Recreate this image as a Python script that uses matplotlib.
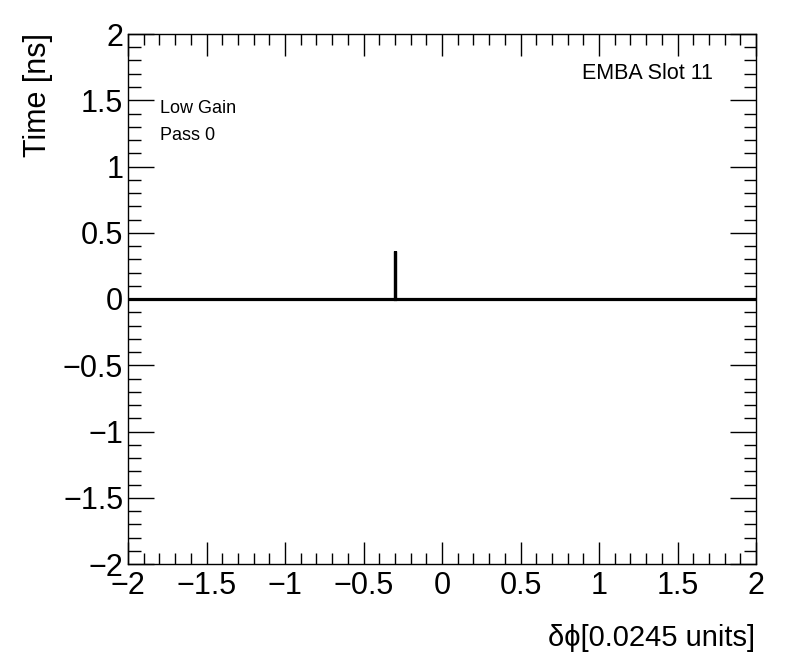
import numpy as np
import matplotlib.pyplot as plt
from matplotlib.ticker import MultipleLocator

plt.rcParams['font.family'] = ['Liberation Sans', 'DejaVu Sans']

# data: profile at dphi, with one non-zero entry
x_pts = [-2.0, -0.3, -0.3, -0.3, 2.0]
y_pts = [0.0, 0.0, 0.36, 0.0, 0.0]

fig = plt.figure(figsize=(7.96, 6.72), dpi=100)
ax = fig.add_axes([128/796, 1 - 564/672, (756-128)/796, (564-34)/672])

ax.plot(x_pts, y_pts, color='black', linewidth=2.3, solid_joinstyle='miter')

ax.set_xlim(-2, 2)
ax.set_ylim(-2, 2)
ax.xaxis.set_major_locator(MultipleLocator(0.5))
ax.xaxis.set_minor_locator(MultipleLocator(0.1))
ax.yaxis.set_major_locator(MultipleLocator(0.5))
ax.yaxis.set_minor_locator(MultipleLocator(0.1))
ax.tick_params(which='both', direction='in', top=True, right=True, width=1)
ax.tick_params(axis='x', which='major', length=16, labelsize=22, pad=5)
ax.tick_params(axis='x', which='minor', length=8)
ax.tick_params(axis='y', which='major', length=19, labelsize=22, pad=3.5)
ax.tick_params(axis='y', which='minor', length=9)
for s in ax.spines.values():
    s.set_linewidth(1)

def fmt(v, pos):
    s = ('%g' % v)
    return s.replace('-', '\u2212')
ax.xaxis.set_major_formatter(plt.FuncFormatter(fmt))
ax.yaxis.set_major_formatter(plt.FuncFormatter(fmt))

fig.text(755/796, 1 - 646/672, '\u03b4\u03d5[0.0245 units]', ha='right', va='baseline', fontsize=21)
fig.text(38/796, 1 - 33/672, 'Time [ns]', ha='center', va='top', rotation=90, fontsize=22)

fig.text(160/796, 1 - 113/672, 'Low Gain', fontsize=13, va='baseline')
fig.text(160/796, 1 - 140/672, 'Pass 0', fontsize=13, va='baseline')
fig.text(713/796, 1 - 79/672, 'EMBA Slot 11', fontsize=15.5, ha='right', va='baseline')

fig.savefig('out.png', dpi=100)
